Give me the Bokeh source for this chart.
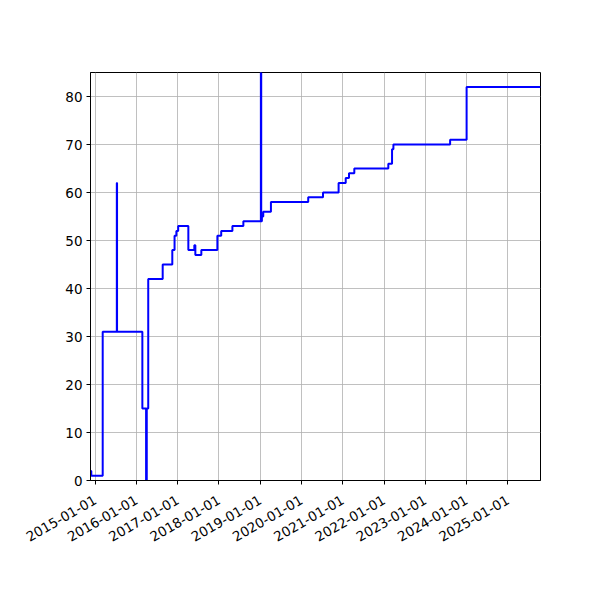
import math
import pandas as pd
from bokeh.plotting import figure
from bokeh.models import FixedTicker, DatetimeTickFormatter, Range1d
from bokeh.embed import file_html
from bokeh.resources import INLINE

# step change points (value holds until the next date)
dates = [
    "2014-11-21", "2014-11-28", "2015-03-09", "2015-07-12", "2015-07-14",
    "2016-02-23", "2016-03-27", "2016-04-02", "2016-04-15", "2016-08-21",
    "2016-11-14", "2016-12-04", "2016-12-20", "2017-01-05", "2017-04-05",
    "2017-05-28", "2017-06-06", "2017-07-29", "2017-12-18", "2018-01-21",
    "2018-04-30", "2018-08-05", "2019-01-07", "2019-01-10", "2019-01-16",
    "2019-01-28", "2019-04-06", "2020-03-01", "2020-07-10", "2020-11-25",
    "2021-01-27", "2021-02-25", "2021-04-13", "2022-02-08", "2022-03-13",
    "2022-03-25", "2023-08-09", "2024-01-02", "2025-10-17",
]
values = [
    2, 1, 31, 62, 31,
    15, 0, 15, 42, 45,
    48, 51, 52, 53, 48,
    49, 47, 48, 51, 52,
    53, 54, 90, 54, 55,
    56, 58, 59, 60, 62,
    63, 64, 65, 66, 69,
    70, 71, 82, 82,
]
year_ticks = ["2015-01-01", "2016-01-01", "2017-01-01", "2018-01-01", "2019-01-01",
              "2020-01-01", "2021-01-01", "2022-01-01", "2023-01-01", "2024-01-01",
              "2025-01-01"]
y_ticks = [0, 10, 20, 30, 40, 50, 60, 70, 80]

df = pd.DataFrame({"date": pd.to_datetime(dates), "value": values})

p = figure(x_axis_type="datetime", frame_width=450, frame_height=408,
           min_border_left=90, min_border_top=72, min_border_right=44,
           min_border_bottom=104, output_backend="svg", toolbar_location=None)
p.x_range = Range1d(df.date.iloc[0], df.date.iloc[-1])
p.y_range = Range1d(0, 85)

p.step(df.date, df.value, mode="after", line_color="#0000ff", line_width=2)

tick_ms = [pd.Timestamp(t).value // 10**6 for t in year_ticks]
p.xaxis.ticker = FixedTicker(ticks=tick_ms)
fmt = "%Y-%m-%d"
p.xaxis.formatter = DatetimeTickFormatter(years=fmt, months=fmt, days=fmt, hours=fmt,
                                          minutes=fmt, seconds=fmt, milliseconds=fmt,
                                          microseconds=fmt)
p.xaxis.major_label_orientation = math.pi / 6
p.yaxis.ticker = FixedTicker(ticks=y_ticks)

for ax in (p.xaxis, p.yaxis):
    ax.axis_line_color = "black"
    ax.axis_line_width = 1
    ax.major_tick_line_color = "black"
    ax.major_tick_out = 4
    ax.major_tick_in = 0
    ax.minor_tick_line_color = None
    ax.major_label_text_font = "DejaVu Sans"
    ax.major_label_text_font_size = "13.5px"
    ax.major_label_text_color = "black"
    ax.major_label_standoff = 4
p.xaxis.major_label_standoff = 14

p.grid.grid_line_color = "#b0b0b0"
p.grid.grid_line_width = 0.8
p.outline_line_color = "black"
p.outline_line_width = 1
p.outline_line_alpha = 1
p.background_fill_color = "white"
p.border_fill_color = "white"

open("out.html", "w").write(file_html(p, INLINE))
